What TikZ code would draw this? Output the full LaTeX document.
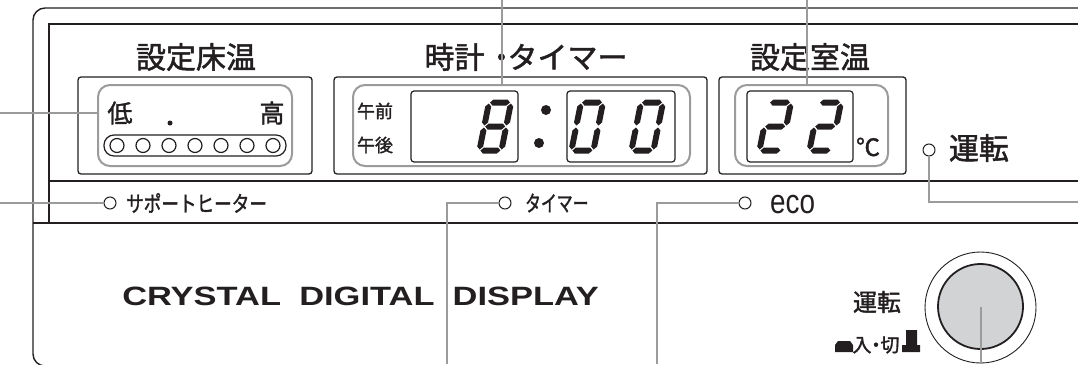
\documentclass[tikz,border=0pt]{standalone}
\usepackage{fontspec}
\newfontfamily\jp[FakeBold=1.6]{Noto Sans CJK JP}
\newfontfamily\arial{Liberation Sans}
\definecolor{ink}{RGB}{35,31,32}
\definecolor{leadgray}{RGB}{155,155,155}
\definecolor{knobgray}{RGB}{210,211,213}

% seven segment pieces (local units, y downwards)
\newcommand{\hseg}[3]{\fill (#1,#3) -- ({#1+3},{#3-3}) -- ({#2-3},{#3-3}) -- (#2,#3) -- ({#2-3},{#3+3}) -- ({#1+3},{#3+3}) -- cycle;}
\newcommand{\vseg}[3]{\fill (#1,#2) -- ({#1+3},{#2+3}) -- ({#1+3},{#3-3}) -- (#1,#3) -- ({#1-3},{#3-3}) -- ({#1-3},{#2+3}) -- cycle;}
\newcommand{\sega}{\hseg{1}{21}{0}}
\newcommand{\segb}{\vseg{22}{1}{23}}
\newcommand{\segc}{\vseg{22}{25}{47}}
\newcommand{\segd}{\hseg{1}{21}{48}}
\newcommand{\sege}{\vseg{0}{25}{47}}
\newcommand{\segf}{\vseg{0}{1}{23}}
\newcommand{\segg}{\hseg{1}{21}{24}}
\newcommand{\segdigit}[3]{\begin{scope}[shift={(#1,#2)},xslant=0.2,ink]
  \foreach \s in {#3} {\csname seg\s\endcsname}
\end{scope}}

\begin{document}
\begin{tikzpicture}[x=1pt,y=-1pt,
    panel/.style={draw=ink,line width=1.4pt},
    dispbox/.style={draw=ink,line width=1.3pt,rounded corners=3pt},
    window/.style={draw=leadgray,line width=2pt,rounded corners=12pt,inner sep=0pt},
    leader/.style={draw=leadgray,line width=2pt},
    led/.style={circle,draw=ink,line width=1pt,inner sep=0pt,minimum size=12pt},
    headtext/.style={font=\jp\fontsize{30}{30}\selectfont,text=ink,inner sep=0pt},
    ledtext/.style={font=\jp\fontsize{22}{22}\selectfont,text=ink,inner sep=0pt,anchor=west}]

  \useasboundingbox (0,0) rectangle (1078,364);
  \clip (0,0) rectangle (1078,364);

  % Panel frame
  \draw[panel,rounded corners=12pt] (1100,8) -- (33,8) -- (33,366) -- (1100,366);
  \draw[panel] (1100,24) -- (49,24) -- (49,223);
  \draw[panel] (49,181) -- (1100,181);
  \draw[panel] (33,223) -- (1100,223);

  % Displays
  \draw[dispbox] (78,77) rectangle (312,174);
  \draw[dispbox] (334,77) rectangle (707,174);
  \draw[dispbox] (719,77) rectangle (906,174);
  \node[window,minimum width=194pt,minimum height=81pt] (floorwin) at (195,125.5) {};
  \node[window,minimum width=337pt,minimum height=81pt] (clockwin) at (521.5,125.5) {};
  \node[window,minimum width=153pt,minimum height=81pt] (roomwin) at (811.5,125.5) {};

  \node[headtext] (floortitle) at (196,57) {設定床温};
  \node[headtext] (clocktitle) at (526,57) {時計\hspace{2pt}・\hspace{-9pt}タイマー};
  \node[headtext] (roomtitle) at (810,57) {設定室温};

  % Floor temperature
  \node[headtext,font=\jp\fontsize{25}{25}\selectfont] (low) at (120,113) {低};
  \node[headtext,font=\jp\fontsize{25}{25}\selectfont] (high) at (272,113) {高};
  \fill[ink] (170,123) circle (2.5);
  \draw[ink,line width=1.2pt,rounded corners=10pt] (104,135) rectangle (286,156);
  \foreach \i in {0,...,6}
    \draw[ink,line width=1.2pt] ({117+26*\i},145.5) circle (7);

  % Clock
  \node[headtext,font=\jp\fontsize{18}{18}\selectfont] (am) at (375,111) {午前};
  \node[headtext,font=\jp\fontsize{18}{18}\selectfont] (pm) at (375,145) {午後};
  \draw[dispbox,line width=1.2pt] (411,91) rectangle (518,162);
  \draw[dispbox,line width=1.2pt] (567,91) rectangle (675,162);
  \fill[ink] (546,110) circle (5);
  \fill[ink] (539,143) circle (5);
  \segdigit{489}{102.5}{a,b,c,d,e,f,g}
  \segdigit{581}{102.5}{a,b,c,d,e,f}
  \segdigit{641}{102.5}{a,b,c,d,e,f}

  % Room temperature
  \draw[dispbox,line width=1.2pt] (747,91) rectangle (853,162);
  \segdigit{769}{102.5}{a,b,g,e,d}
  \segdigit{819}{102.5}{a,b,g,e,d}
  \node[headtext,font=\jp\fontsize{24}{24}\selectfont] (degc) at (868,147) {℃};

  \node[led] (ledrun) at (929,150) {};
  \node[headtext] (runtext) at (979,148) {運転};

  % Indicator row
  \node[led] (ledsup) at (110,203) {};
  \node[ledtext,xscale=0.8] (suptext) at (126,203) {サポートヒーター};
  \node[led] (ledtim) at (505,203) {};
  \node[ledtext,xscale=0.72] (timtext) at (525,203) {タイマー};
  \node[led] (ledeco) at (745,203) {};
  \node[font=\arial\fontsize{34}{34}\selectfont,text=ink,inner sep=0pt,xscale=0.82,anchor=base west] (ecotext) at (770,213) {eco};

  % Lower part
  \node[font=\arial\bfseries\fontsize{26.5}{26.5}\selectfont,text=ink,inner sep=0pt,xscale=1.3,anchor=base west] (brand) at (122,305) {CRYSTAL\hspace{14pt}DIGITAL\hspace{14pt}DISPLAY};

  \node[circle,draw=ink,line width=0.9pt,minimum size=111pt,inner sep=0pt] (ring) at (980.5,307.5) {};
  \node[circle,draw=ink,line width=1.8pt,fill=knobgray,minimum size=85pt,inner sep=0pt] (knob) at (980.5,306.5) {};
  \node[headtext,font=\jp\fontsize{24}{24}\selectfont] (runlabel) at (877,302) {運転};
  \node[headtext,font=\jp\fontsize{19}{19}\selectfont] (onoff) at (876,345) {入\hspace{-5pt}・\hspace{-5pt}切};
  \fill[ink] (835,352) -- (835,345) -- (838,341) -- (850,341) -- (853,345) -- (853,352) -- cycle;
  \fill[ink] (902,352) -- (902,345) -- (906,345) -- (906,330) -- (917,330) -- (917,345) -- (920,345) -- (920,352) -- cycle;

  % Leaders
  \coordinate (floorend) at (0,113);
  \coordinate (supend) at (0,203);
  \coordinate (clockend) at (502,0);
  \coordinate (roomend) at (807,0);
  \coordinate (timend) at (447,364);
  \coordinate (ecoend) at (657,364);
  \coordinate (runend) at (1078,202);
  \coordinate (knobend) at (980.5,364);
  \draw[leader] (floorend) -- (floorend -| floorwin.west);
  \draw[leader] (supend) -- (ledsup.west);
  \draw[leader] (clockend) -- (clockend |- clockwin.north);
  \draw[leader] (roomend) -- (roomend |- roomwin.north);
  \draw[leader] (ledtim.west) -| (timend);
  \draw[leader] (ledeco.west) -| (ecoend);
  \draw[leader] (ledrun.south) |- (runend);
  \draw[leader] (knob.center) -- (knobend);
\end{tikzpicture}
\end{document}
